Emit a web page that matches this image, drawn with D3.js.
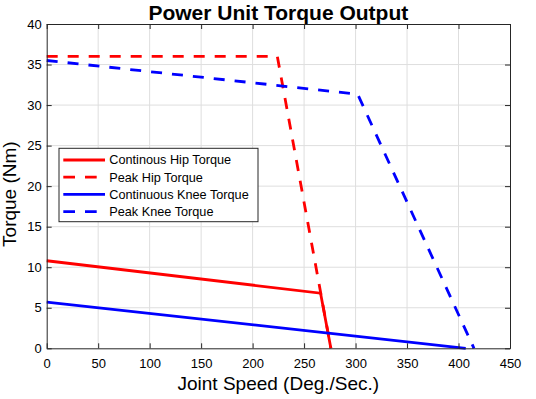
<!DOCTYPE html>
<html>
<head>
<meta charset="utf-8">
<script src="https://cdn.jsdelivr.net/npm/d3@7"></script>
<style>
  body { margin: 0; background: #fff; }
  svg { font-family: "Liberation Sans", Arial, sans-serif; }
</style>
</head>
<body>
<div id="chart"></div>
<script>
// Speed (deg/s) / torque (Nm) points
const hipContSpeed = [0, 266, 276];
const hipContTorque = [10.8, 6.8, 0];
const hipPeakSpeed = [0, 224, 276];
const hipPeakTorque = [36, 36, 0];
const kneeContSpeed = [0, 407];
const kneeContTorque = [5.7, 0];
const kneePeakSpeed = [0, 302, 415];
const kneePeakTorque = [35.5, 31.35, 0];

const seriesNames = ["Continous Hip Torque", "Peak Hip Torque", "Continuous Knee Torque", "Peak Knee Torque"];
const xTicks = [0, 50, 100, 150, 200, 250, 300, 350, 400, 450];
const yTicks = [0, 5, 10, 15, 20, 25, 30, 35, 40];

const series = [
    { name: seriesNames[0], xs: hipContSpeed, ys: hipContTorque, color: "#ff0000", dashed: false },
    { name: seriesNames[1], xs: hipPeakSpeed, ys: hipPeakTorque, color: "#ff0000", dashed: true },
    { name: seriesNames[2], xs: kneeContSpeed, ys: kneeContTorque, color: "#0000ff", dashed: false },
    { name: seriesNames[3], xs: kneePeakSpeed, ys: kneePeakTorque, color: "#0000ff", dashed: true }
];

const W = 536, H = 399;
const margin = { top: 24, right: 26, bottom: 50.7, left: 46.7 };
const width = W - margin.left - margin.right;
const height = H - margin.top - margin.bottom;

const svg = d3.select("#chart")
    .append("svg")
    .attr("width", W)
    .attr("height", H);

const g = svg.append("g")
    .attr("transform", `translate(${margin.left},${margin.top})`);

const x = d3.scaleLinear().domain([0, 450]).range([0, width]);
const y = d3.scaleLinear().domain([0, 40]).range([height, 0]);

// Grid lines
g.append("g").selectAll("line")
    .data(xTicks.slice(1, -1))
    .enter().append("line")
    .attr("x1", d => x(d)).attr("x2", d => x(d))
    .attr("y1", 0).attr("y2", height)
    .attr("stroke", "#dedede").attr("stroke-width", 1);

g.append("g").selectAll("line")
    .data(yTicks.slice(1, -1))
    .enter().append("line")
    .attr("y1", d => y(d)).attr("y2", d => y(d))
    .attr("x1", 0).attr("x2", width)
    .attr("stroke", "#dedede").attr("stroke-width", 1);

// Lines
const line = d3.line().x(d => x(d[0])).y(d => y(d[1]));

g.append("g").selectAll("path")
    .data(series)
    .enter().append("path")
    .attr("d", s => line(s.xs.map((v, i) => [v, s.ys[i]])))
    .attr("fill", "none")
    .attr("stroke", s => s.color)
    .attr("stroke-width", 2.8)
    .attr("stroke-dasharray", s => s.dashed ? "11,10" : null);

// Axes (ticks pointing inward, box on)
const axisColor = "#262626";
function styleAxis(sel) {
    sel.select(".domain").attr("stroke", axisColor).attr("stroke-width", 1);
    sel.selectAll(".tick line").attr("stroke", axisColor);
    sel.selectAll("text").attr("fill", "#000").style("font-size", "13px");
}

g.append("g")
    .attr("transform", `translate(0,${height})`)
    .call(d3.axisBottom(x).tickValues(xTicks).tickSize(-5).tickPadding(10).tickSizeOuter(0))
    .call(styleAxis);

g.append("g")
    .call(d3.axisTop(x).tickValues(xTicks).tickSize(-5).tickSizeOuter(0).tickFormat(""))
    .call(styleAxis);

g.append("g")
    .call(d3.axisLeft(y).tickValues(yTicks).tickSize(-5).tickPadding(5).tickSizeOuter(0))
    .call(styleAxis);

g.append("g")
    .attr("transform", `translate(${width},0)`)
    .call(d3.axisRight(y).tickValues(yTicks).tickSize(-5).tickSizeOuter(0).tickFormat(""))
    .call(styleAxis);

// Title and axis labels
svg.append("text")
    .attr("x", margin.left + width / 2)
    .attr("y", 20)
    .attr("text-anchor", "middle")
    .style("font-size", "21px")
    .style("font-weight", "bold")
    .text("Power Unit Torque Output");

svg.append("text")
    .attr("x", margin.left + width / 2)
    .attr("y", 390)
    .attr("text-anchor", "middle")
    .style("font-size", "19px")
    .text("Joint Speed (Deg./Sec.)");

svg.append("text")
    .attr("transform", `translate(16,${margin.top + height / 2 + 8}) rotate(-90)`)
    .attr("text-anchor", "middle")
    .style("font-size", "19px")
    .text("Torque (Nm)");

// Legend
const legend = svg.append("g").attr("transform", "translate(59,148.3)");
legend.append("rect")
    .attr("width", 199).attr("height", 73.4)
    .attr("fill", "#fff")
    .attr("stroke", axisColor).attr("stroke-width", 1);

const items = legend.selectAll(".item")
    .data(series)
    .enter().append("g")
    .attr("transform", (d, i) => `translate(0,${11.7 + i * 17.2})`);

items.append("line")
    .attr("x1", 4.3).attr("x2", 46)
    .attr("stroke", d => d.color)
    .attr("stroke-width", 2.8)
    .attr("stroke-dasharray", d => d.dashed ? "11.7,10" : null);

items.append("text")
    .attr("x", 50.3)
    .attr("dy", "0.35em")
    .style("font-size", "12.7px")
    .text(d => d.name);
</script>
</body>
</html>
